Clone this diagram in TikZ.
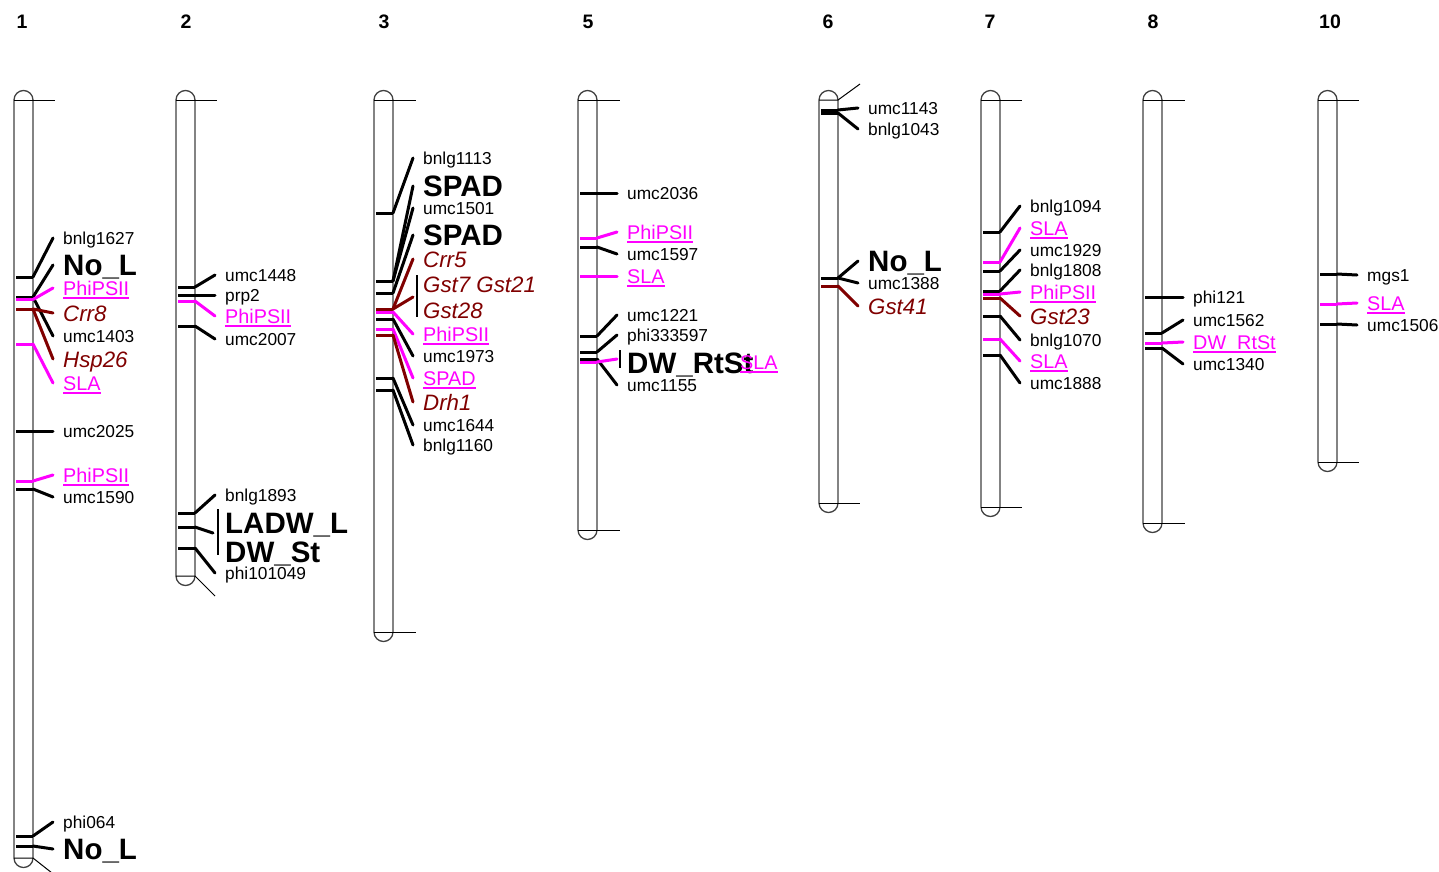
\documentclass[tikz,border=0pt]{standalone}
\usepackage{fontspec}
\setmainfont{Liberation Sans}
\definecolor{qtlcolor}{HTML}{FF00FF}
\definecolor{genecolor}{HTML}{800000}
\newcommand{\qtlul}[1]{\setbox0\hbox{#1}\rlap{\rule[-3.6pt]{\wd0}{1.8pt}}\box0}

\begin{document}
\begin{tikzpicture}[
    x=1pt, y=-1pt,
    chrom/.style={draw=black!75, line width=1.3pt},
    endline/.style={draw=black, line width=1pt},
    tick/.style={draw=black, line width=3pt},
    qtick/.style={tick, draw=qtlcolor},
    gtick/.style={tick, draw=genecolor},
    lead/.style={draw=black, line width=3pt, line cap=round},
    qlead/.style={lead, draw=qtlcolor},
    glead/.style={lead, draw=genecolor},
    brk/.style={draw=black, line width=1.1pt},
    num/.style={font=\fontsize{19.5}{20}\selectfont\bfseries, inner sep=0pt},
    mk/.style={anchor=west, inner xsep=10pt, inner ysep=0pt, text depth=0pt, text height=12.4pt, font=\fontsize{17.3}{18}\selectfont},
    trait/.style={mk, text height=21pt, font=\fontsize{29.5}{30}\selectfont\bfseries},
    gene/.style={mk, text=genecolor, text height=16pt, font=\fontsize{22.3}{23}\selectfont\itshape},
    qtl/.style={mk, text=qtlcolor, text height=14.2pt, font=\fontsize{19.8}{20}\selectfont}
]
    \useasboundingbox (0,0) rectangle (1439,871);

    % =========================================================================
    % CHROMOSOME 1
    % =========================================================================
    \node[num] (n1) at (22,22) {1};
    \draw[chrom] (14,100) -- (14,858) arc[start angle=180, end angle=0, radius=9.5] -- (33,100) arc[start angle=0, end angle=-180, radius=9.5];
    \draw[endline] (14,100) -- (55,100);
    \draw[endline] (14,858) -- (33,858) -- (52,873);

    % Markers
    \draw[tick] (16,277) -- (33,277) coordinate (c1a);
    \draw[tick] (16,297) -- (33,297) coordinate (c1b);
    \draw[qtick] (16,299.5) -- (33,299.5) coordinate (c1c);
    \draw[gtick] (16,309) -- (33,309) coordinate (c1d);
    \draw[qtick] (16,344) -- (33,344) coordinate (c1e);
    \draw[tick] (16,431) -- (33,431) coordinate (c1f);
    \draw[qtick] (16,481) -- (33,481) coordinate (c1g);
    \draw[tick] (16,489) -- (33,489) coordinate (c1h);
    \draw[tick] (16,836) -- (33,836) coordinate (c1i);
    \draw[tick] (16,846) -- (33,846) coordinate (c1j);

    % Labels
    \node[mk] (c1_bnlg1627) at (53,238) {bnlg1627};
    \node[trait] (c1_nol_a) at (53,265) {No\_L};
    \node[qtl] (c1_phipsii_a) at (53,288) {\qtlul{PhiPSII}};
    \node[gene] (c1_crr8) at (53,313) {Crr8};
    \node[mk] (c1_umc1403) at (53,336) {umc1403};
    \node[gene] (c1_hsp26) at (53,359) {Hsp26};
    \node[qtl] (c1_sla) at (53,383) {\qtlul{SLA}};
    \node[mk] (c1_umc2025) at (53,431) {umc2025};
    \node[qtl] (c1_phipsii_b) at (53,475) {\qtlul{PhiPSII}};
    \node[mk] (c1_umc1590) at (53,497) {umc1590};
    \node[mk] (c1_phi064) at (53,822) {phi064};
    \node[trait] (c1_nol_b) at (53,849) {No\_L};

    % Leaders
    \draw[lead] (c1a) -- (c1_bnlg1627.west);
    \draw[lead] (c1b) -- (c1_nol_a.west);
    \draw[lead] (c1b) -- (c1_umc1403.west);
    \draw[qlead] (c1c) -- (c1_phipsii_a.west);
    \draw[glead] (c1d) -- (c1_crr8.west);
    \draw[glead] (c1d) -- (c1_hsp26.west);
    \draw[qlead] (c1e) -- (c1_sla.west);
    \draw[lead] (c1f) -- (c1_umc2025.west);
    \draw[qlead] (c1g) -- (c1_phipsii_b.west);
    \draw[lead] (c1h) -- (c1_umc1590.west);
    \draw[lead] (c1i) -- (c1_phi064.west);
    \draw[lead] (c1j) -- (c1_nol_b.west);

    % =========================================================================
    % CHROMOSOME 2
    % =========================================================================
    \node[num] (n2) at (186,22) {2};
    \draw[chrom] (176,100) -- (176,576) arc[start angle=180, end angle=0, radius=9.5] -- (195,100) arc[start angle=0, end angle=-180, radius=9.5];
    \draw[endline] (176,100) -- (217,100);
    \draw[endline] (176,576) -- (195,576) -- (215,596);

    % Markers
    \draw[tick] (178,287) -- (195,287) coordinate (c2a);
    \draw[tick] (178,295) -- (195,295) coordinate (c2b);
    \draw[qtick] (178,301) -- (195,301) coordinate (c2c);
    \draw[tick] (178,326) -- (195,326) coordinate (c2d);
    \draw[tick] (178,513) -- (195,513) coordinate (c2e);
    \draw[tick] (178,527) -- (195,527) coordinate (c2f);
    \draw[tick] (178,548) -- (195,548) coordinate (c2g);

    % Labels
    \node[mk] (c2_umc1448) at (215,275) {umc1448};
    \node[mk] (c2_prp2) at (215,295) {prp2};
    \node[qtl] (c2_phipsii) at (215,316) {\qtlul{PhiPSII}};
    \node[mk] (c2_umc2007) at (215,339) {umc2007};
    \node[mk] (c2_bnlg1893) at (215,495) {bnlg1893};
    \node[trait] (c2_ladwl) at (215,523) {LADW\_L};
    \node[trait] (c2_dwst) at (215,552) {DW\_St};
    \node[mk] (c2_phi101049) at (215,573) {phi101049};
    \draw[brk] (218,509) -- (218,555);
    \coordinate (c2_brk) at (213,533);

    % Leaders
    \draw[lead] (c2a) -- (c2_umc1448.west);
    \draw[lead] (c2b) -- (c2_prp2.west);
    \draw[qlead] (c2c) -- (c2_phipsii.west);
    \draw[lead] (c2d) -- (c2_umc2007.west);
    \draw[lead] (c2e) -- (c2_bnlg1893.west);
    \draw[lead] (c2f) -- (c2_brk);
    \draw[lead] (c2g) -- (c2_phi101049.west);

    % =========================================================================
    % CHROMOSOME 3
    % =========================================================================
    \node[num] (n3) at (384,22) {3};
    \draw[chrom] (374,100) -- (374,632) arc[start angle=180, end angle=0, radius=9.5] -- (393,100) arc[start angle=0, end angle=-180, radius=9.5];
    \draw[endline] (374,100) -- (416,100);
    \draw[endline] (374,632) -- (416,632);

    % Markers
    \draw[tick] (376,213) -- (393,213) coordinate (c3a);
    \draw[tick] (376,281) -- (393,281) coordinate (c3b);
    \draw[tick] (376,293) -- (393,293) coordinate (c3c);
    \draw[gtick] (376,309) -- (393,309) coordinate (c3d);
    \draw[qtick] (376,312) -- (393,312) coordinate (c3e);
    \draw[tick] (376,319) -- (393,319) coordinate (c3f);
    \draw[qtick] (376,329) -- (393,329) coordinate (c3g);
    \draw[gtick] (376,335) -- (393,335) coordinate (c3h);
    \draw[tick] (376,378) -- (393,378) coordinate (c3i);
    \draw[tick] (376,390) -- (393,390) coordinate (c3j);

    % Labels
    \node[mk] (c3_bnlg1113) at (413,158) {bnlg1113};
    \node[trait] (c3_spad_a) at (413,186) {SPAD};
    \node[mk] (c3_umc1501) at (413,208) {umc1501};
    \node[trait] (c3_spad_b) at (413,235) {SPAD};
    \node[gene] (c3_crr5) at (413,259) {Crr5};
    \node[gene] (c3_gst7) at (413,284) {Gst7 Gst21};
    \node[gene] (c3_gst28) at (413,310) {Gst28};
    \node[qtl] (c3_phipsii) at (413,334) {\qtlul{PhiPSII}};
    \node[mk] (c3_umc1973) at (413,356) {umc1973};
    \node[qtl] (c3_spad_c) at (413,378) {\qtlul{SPAD}};
    \node[gene] (c3_drh1) at (413,402) {Drh1};
    \node[mk] (c3_umc1644) at (413,425) {umc1644};
    \node[mk] (c3_bnlg1160) at (413,445) {bnlg1160};
    \draw[brk] (417,275) -- (417,317);
    \coordinate (c3_brk) at (413,297);

    % Leaders
    \draw[lead] (c3a) -- (c3_bnlg1113.west);
    \draw[lead] (c3b) -- (c3_spad_a.west);
    \draw[lead] (c3b) -- (c3_umc1501.west);
    \draw[lead] (c3c) -- (c3_spad_b.west);
    \draw[glead] (c3d) -- (c3_crr5.west);
    \draw[glead] (c3d) -- (c3_brk);
    \draw[qlead] (c3e) -- (c3_phipsii.west);
    \draw[lead] (c3f) -- (c3_umc1973.west);
    \draw[qlead] (c3g) -- (c3_spad_c.west);
    \draw[glead] (c3h) -- (c3_drh1.west);
    \draw[lead] (c3i) -- (c3_umc1644.west);
    \draw[lead] (c3j) -- (c3_bnlg1160.west);

    % =========================================================================
    % CHROMOSOME 5
    % =========================================================================
    \node[num] (n5) at (588,22) {5};
    \draw[chrom] (578,100) -- (578,530) arc[start angle=180, end angle=0, radius=9.5] -- (597,100) arc[start angle=0, end angle=-180, radius=9.5];
    \draw[endline] (578,100) -- (620,100);
    \draw[endline] (578,530) -- (620,530);

    % Markers
    \draw[tick] (580,193) -- (597,193) coordinate (c5a);
    \draw[qtick] (580,238) -- (597,238) coordinate (c5b);
    \draw[tick] (580,247) -- (597,247) coordinate (c5c);
    \draw[qtick] (580,276) -- (597,276) coordinate (c5d);
    \draw[tick] (580,336) -- (597,336) coordinate (c5e);
    \draw[tick] (580,352) -- (597,352) coordinate (c5f);
    \draw[tick] (580,359) -- (597,359) coordinate (c5g);
    \draw[qtick] (580,362) -- (597,362) coordinate (c5h);

    % Labels
    \node[mk] (c5_umc2036) at (617,193) {umc2036};
    \node[qtl] (c5_phipsii) at (617,232) {\qtlul{PhiPSII}};
    \node[mk] (c5_umc1597) at (617,254) {umc1597};
    \node[qtl] (c5_sla_a) at (617,276) {\qtlul{SLA}};
    \node[mk] (c5_umc1221) at (617,315) {umc1221};
    \node[mk] (c5_phi333597) at (617,335) {phi333597};
    \node[trait] (c5_dwrtst) at (617,363) {DW\_RtSt};
    \node[qtl] (c5_sla_b) at (730,362) {\qtlul{SLA}};
    \node[mk] (c5_umc1155) at (617,385) {umc1155};
    \draw[brk] (620,350) -- (620,368);
    \coordinate (c5_brk) at (617,359);

    % Leaders
    \draw[lead] (c5a) -- (c5_umc2036.west);
    \draw[qlead] (c5b) -- (c5_phipsii.west);
    \draw[lead] (c5c) -- (c5_umc1597.west);
    \draw[qlead] (c5d) -- (c5_sla_a.west);
    \draw[lead] (c5e) -- (c5_umc1221.west);
    \draw[lead] (c5f) -- (c5_phi333597.west);
    \draw[lead] (c5g) -- (c5_umc1155.west);
    \draw[qlead] (c5h) -- (c5_brk);

    % =========================================================================
    % CHROMOSOME 6
    % =========================================================================
    \node[num] (n6) at (828,22) {6};
    \draw[chrom] (819,100) -- (819,503) arc[start angle=180, end angle=0, radius=9.5] -- (838,100) arc[start angle=0, end angle=-180, radius=9.5];
    \draw[endline] (819,100) -- (838,100) -- (860,84);
    \draw[endline] (819,503) -- (860,503);

    % Markers
    \draw[tick] (821,110) -- (838,110) coordinate (c6a);
    \draw[tick] (821,113) -- (838,113) coordinate (c6b);
    \draw[tick] (821,278) -- (838,278) coordinate (c6c);
    \draw[gtick] (821,286) -- (838,286) coordinate (c6d);

    % Labels
    \node[mk] (c6_umc1143) at (858,108) {umc1143};
    \node[mk] (c6_bnlg1043) at (858,129) {bnlg1043};
    \node[trait] (c6_nol) at (858,261) {No\_L};
    \node[mk] (c6_umc1388) at (858,283) {umc1388};
    \node[gene] (c6_gst41) at (858,306) {Gst41};

    % Leaders
    \draw[lead] (c6a) -- (c6_umc1143.west);
    \draw[lead] (c6b) -- (c6_bnlg1043.west);
    \draw[lead] (c6c) -- (c6_nol.west);
    \draw[lead] (c6c) -- (c6_umc1388.west);
    \draw[glead] (c6d) -- (c6_gst41.west);

    % =========================================================================
    % CHROMOSOME 7
    % =========================================================================
    \node[num] (n7) at (990,22) {7};
    \draw[chrom] (981,100) -- (981,507) arc[start angle=180, end angle=0, radius=9.5] -- (1000,100) arc[start angle=0, end angle=-180, radius=9.5];
    \draw[endline] (981,100) -- (1022,100);
    \draw[endline] (981,507) -- (1022,507);

    % Markers
    \draw[tick] (983,232) -- (1000,232) coordinate (c7a);
    \draw[qtick] (983,262) -- (1000,262) coordinate (c7b);
    \draw[tick] (983,271) -- (1000,271) coordinate (c7c);
    \draw[tick] (983,291) -- (1000,291) coordinate (c7d);
    \draw[qtick] (983,294) -- (1000,294) coordinate (c7e);
    \draw[gtick] (983,298) -- (1000,298) coordinate (c7f);
    \draw[tick] (983,316) -- (1000,316) coordinate (c7g);
    \draw[qtick] (983,339) -- (1000,339) coordinate (c7h);
    \draw[tick] (983,355) -- (1000,355) coordinate (c7i);

    % Labels
    \node[mk] (c7_bnlg1094) at (1020,206) {bnlg1094};
    \node[qtl] (c7_sla_a) at (1020,228) {\qtlul{SLA}};
    \node[mk] (c7_umc1929) at (1020,250) {umc1929};
    \node[mk] (c7_bnlg1808) at (1020,270) {bnlg1808};
    \node[qtl] (c7_phipsii) at (1020,292) {\qtlul{PhiPSII}};
    \node[gene] (c7_gst23) at (1020,316) {Gst23};
    \node[mk] (c7_bnlg1070) at (1020,340) {bnlg1070};
    \node[qtl] (c7_sla_b) at (1020,361) {\qtlul{SLA}};
    \node[mk] (c7_umc1888) at (1020,383) {umc1888};

    % Leaders
    \draw[lead] (c7a) -- (c7_bnlg1094.west);
    \draw[qlead] (c7b) -- (c7_sla_a.west);
    \draw[lead] (c7c) -- (c7_umc1929.west);
    \draw[lead] (c7d) -- (c7_bnlg1808.west);
    \draw[qlead] (c7e) -- (c7_phipsii.west);
    \draw[glead] (c7f) -- (c7_gst23.west);
    \draw[lead] (c7g) -- (c7_bnlg1070.west);
    \draw[qlead] (c7h) -- (c7_sla_b.west);
    \draw[lead] (c7i) -- (c7_umc1888.west);

    % =========================================================================
    % CHROMOSOME 8
    % =========================================================================
    \node[num] (n8) at (1153,22) {8};
    \draw[chrom] (1143,100) -- (1143,523) arc[start angle=180, end angle=0, radius=9.5] -- (1162,100) arc[start angle=0, end angle=-180, radius=9.5];
    \draw[endline] (1143,100) -- (1185,100);
    \draw[endline] (1143,523) -- (1185,523);

    % Markers
    \draw[tick] (1145,297) -- (1162,297) coordinate (c8a);
    \draw[tick] (1145,333) -- (1162,333) coordinate (c8b);
    \draw[qtick] (1145,343) -- (1162,343) coordinate (c8c);
    \draw[tick] (1145,348) -- (1162,348) coordinate (c8d);

    % Labels
    \node[mk] (c8_phi121) at (1183,297) {phi121};
    \node[mk] (c8_umc1562) at (1183,320) {umc1562};
    \node[qtl] (c8_dwrtst) at (1183,342) {\qtlul{DW\_RtSt}};
    \node[mk] (c8_umc1340) at (1183,364) {umc1340};

    % Leaders
    \draw[lead] (c8a) -- (c8_phi121.west);
    \draw[lead] (c8b) -- (c8_umc1562.west);
    \draw[qlead] (c8c) -- (c8_dwrtst.west);
    \draw[lead] (c8d) -- (c8_umc1340.west);

    % =========================================================================
    % CHROMOSOME 10
    % =========================================================================
    \node[num] (n10) at (1330,22) {10};
    \draw[chrom] (1318,100) -- (1318,462) arc[start angle=180, end angle=0, radius=9.5] -- (1337,100) arc[start angle=0, end angle=-180, radius=9.5];
    \draw[endline] (1318,100) -- (1359,100);
    \draw[endline] (1318,462) -- (1359,462);

    % Markers
    \draw[tick] (1320,274) -- (1337,274) coordinate (c10a);
    \draw[qtick] (1320,304) -- (1337,304) coordinate (c10b);
    \draw[tick] (1320,324) -- (1337,324) coordinate (c10c);

    % Labels
    \node[mk] (c10_mgs1) at (1357,275) {mgs1};
    \node[qtl] (c10_sla) at (1357,303) {\qtlul{SLA}};
    \node[mk] (c10_umc1506) at (1357,325) {umc1506};

    % Leaders
    \draw[lead] (c10a) -- (c10_mgs1.west);
    \draw[qlead] (c10b) -- (c10_sla.west);
    \draw[lead] (c10c) -- (c10_umc1506.west);

\end{tikzpicture}
\end{document}
